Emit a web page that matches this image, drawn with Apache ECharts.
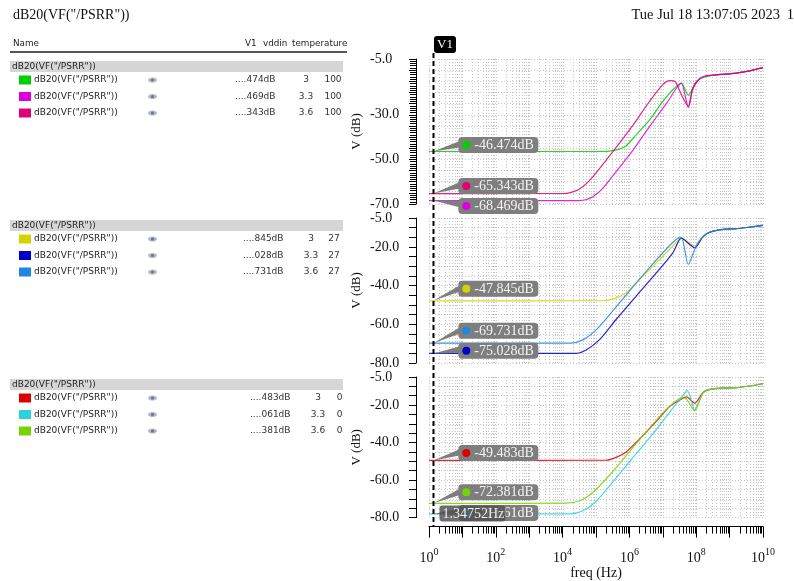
<!DOCTYPE html>
<html>
<head>
<meta charset="utf-8">
<script src="https://cdn.jsdelivr.net/npm/echarts@6/dist/echarts.min.js"></script>
<style>
html, body { margin: 0; padding: 0; background: #fff; }
#chart { width: 794px; height: 581px; }
</style>
</head>
<body>
<div id="chart"></div>
<script>
// ---- text ----
const titleText = 'dB20(VF("/PSRR"))';
const stampText = 'Tue Jul 18 13:07:05 2023';
const pageText = '1';
const tableHeader = ['Name', 'V1', 'vddin', 'temperature'];
const groupLabel = 'dB20(VF("/PSRR"))';
const traceLabel = 'dB20(VF("/PSRR"))';
const xAxisTitle = 'freq (Hz)';
const yAxisTitle = 'V (dB)';

// ---- cursor V1 ----
const cursorName = 'V1';
const cursorFreq = 1.34752;
const cursorFreqText = '1.34752Hz';

// ---- sweep parameters ----
const temperatures = ['100', '27', '0'];
const vddinValues = ['3', '3.3', '3.6'];
const cursorStubs = [
  ['....474dB', '....469dB', '....343dB'],
  ['....845dB', '....028dB', '....731dB'],
  ['....483dB', '....061dB', '....381dB']
];
const traceColors = [
  ['#00d000', '#dd00dd', '#dd0077'],
  ['#d4d400', '#0000cc', '#2088e0'],
  ['#dd0000', '#28d4d8', '#78d400']
];

// ---- PSRR traces [freq Hz, dB] ----
// temperature 100
const t100_v30 = [[1,-46.474],[1e5,-46.47],[2.5e5,-46.3],[5e5,-45.4],[8e5,-43.9],[1.6e6,-39.0],[4e6,-32.4],[1e7,-24.0],[2e7,-18.8],[3.6e7,-15.8],[5.8e7,-21.3],[1e8,-15.1],[1.6e8,-13.3],[4e8,-12.1],[1.6e9,-11.3],[4e9,-10.3],[1e10,-8.9]];
const t100_v33 = [[1,-68.469],[3e4,-68.45],[5e4,-68.1],[8e4,-66.8],[1.6e5,-63.0],[4e5,-55.5],[1.3e6,-45.7],[4e6,-35.3],[1.3e7,-24.8],[2.6e7,-18.0],[3.6e7,-15.8],[5.8e7,-26.7],[8e7,-18.0],[1.3e8,-13.6],[2e8,-12.5],[4e8,-12.1],[1.6e9,-11.3],[4e9,-10.3],[1e10,-8.9]];
const t100_v36 = [[1,-65.343],[1e4,-65.3],[1.7e4,-64.9],[3.3e4,-63.2],[8e4,-57.8],[3.2e5,-46.5],[1.3e6,-34.5],[4e6,-24.0],[1e7,-16.5],[1.6e7,-14.7],[2.3e7,-15.0],[3.6e7,-21.0],[5.8e7,-26.3],[8e7,-18.0],[1.3e8,-13.8],[2e8,-12.5],[4e8,-12.1],[1.6e9,-11.3],[4e9,-10.3],[1e10,-8.9]];
// temperature 27
const t27_v30 = [[1,-47.845],[1.6e5,-47.8],[4e5,-46.3],[8e5,-43.6],[2e6,-36.8],[6.5e6,-28.1],[2e7,-19.5],[3.6e7,-15.4],[9e7,-19.5],[1.45e8,-15.2],[2.6e8,-12.3],[6.5e8,-10.9],[1.6e9,-10.5],[4e9,-9.7],[1e10,-8.8]];
const t27_v33 = [[1,-75.028],[2.6e4,-75.0],[5.2e4,-73.2],[1.3e5,-67.8],[4e5,-57.5],[1.6e6,-45.4],[6.5e6,-33.3],[2e7,-23.0],[3.6e7,-15.4],[9e7,-20.4],[1.6e8,-14.6],[2.6e8,-12.3],[6.5e8,-10.9],[1.6e9,-10.5],[4e9,-9.7],[1e10,-8.8]];
const t27_v36 = [[1,-69.731],[1.7e4,-69.7],[4.2e4,-67.9],[1.05e5,-62.6],[2.6e5,-54.9],[1e6,-42.8],[4e6,-30.7],[1.3e7,-20.9],[2.6e7,-15.9],[3.6e7,-15.2],[5.8e7,-29.0],[1e8,-19.5],[1.6e8,-14.6],[2.6e8,-12.3],[6.5e8,-10.9],[1.6e9,-10.5],[4e9,-9.7],[1e10,-8.8]];
// temperature 0
const t0_v30 = [[1,-49.483],[2e5,-49.4],[4e5,-47.9],[8e5,-45.0],[2e6,-38.1],[6.5e6,-28.5],[1.6e7,-20.7],[3.6e7,-16.8],[5.1e7,-15.6],[9e7,-19.0],[1.6e8,-13.3],[2.6e8,-11.6],[6.5e8,-10.9],[1.6e9,-10.7],[4e9,-9.8],[1e10,-8.6]];
const t0_v33 = [[1,-78.061],[1.7e4,-78.0],[4.2e4,-76.2],[1.05e5,-71.0],[4e5,-58.8],[1.6e6,-45.9],[6.5e6,-32.9],[2e7,-21.6],[3.6e7,-16.1],[5.4e7,-12.1],[9e7,-22.5],[1.6e8,-13.3],[2.6e8,-11.6],[6.5e8,-10.9],[1.6e9,-10.7],[4e9,-9.8],[1e10,-8.6]];
const t0_v36 = [[1,-72.381],[1.3e4,-72.3],[3.3e4,-71.0],[8e4,-66.6],[3.2e5,-55.4],[1.3e6,-42.4],[5e6,-30.3],[1.6e7,-20.7],[3.6e7,-16.1],[5.1e7,-16.8],[9e7,-23.0],[1.6e8,-13.3],[2.6e8,-11.6],[6.5e8,-10.9],[1.6e9,-10.7],[4e9,-9.8],[1e10,-8.6]];

const panelTraces = [
  [t100_v30, t100_v33, t100_v36],
  [t27_v30, t27_v33, t27_v36],
  [t0_v30, t0_v33, t0_v36]
];

// ---- axes ----
const yMins = [-70, -80, -80];
const yMax = -5;
const yLabelValues = [
  [-5, -30, -50, -70],
  [-5, -20, -40, -60, -80],
  [-5, -20, -40, -60, -80]
];
const xMin = 1, xMax = 1e10;
const decadeTicks = [1, 1e1, 1e2, 1e3, 1e4, 1e5, 1e6, 1e7, 1e8, 1e9, 1e10];
const decadeLabels = [1, 1e2, 1e4, 1e6, 1e8, 1e10];

// ---- layout ----
const SERIF = '"Liberation Serif", "Times New Roman", serif';
const SANS = '"DejaVu Sans", "Noto Sans", sans-serif';
const plotLeft = 429, plotRight = 763;
const panelTops = [59, 218, 377];
const panelHeights = [145, 145, 144];
const yAxisShift = 13;
const xAxisDrop = 9;
const cursorTop = 53;
// callout box top relative to its tip, per trace
const calloutLift = [[-14.6, -2.6, -15.6], [-20, -10.6, -20.4], [-15.3, -9, -19]];
const calloutGap = 25;

// log-spaced grid positions (1..9 per decade)
const logGridFreqs = [];
for (let n = 0; n < 10; n++) for (let k = 1; k < 10; k++) logGridFreqs.push(k * Math.pow(10, n));
logGridFreqs.push(1e10);
const minorFreqs = logGridFreqs.filter(f => Math.abs(Math.log10(f) - Math.round(Math.log10(f))) > 1e-9);

const chart = echarts.init(document.getElementById('chart'), null, { renderer: 'canvas', width: 794, height: 581 });

const grids = panelTops.map((t, i) => ({
  left: plotLeft, width: plotRight - plotLeft, top: t, height: panelHeights[i], containLabel: false
}));

const xAxes = panelTops.map((t, i) => {
  const bottom = i === 2;
  return {
    gridIndex: i, type: 'log', logBase: 10, min: xMin, max: xMax,
    show: true,
    offset: bottom ? xAxisDrop : 0,
    axisLine: { show: bottom, onZero: false, lineStyle: { color: '#000', width: 1 } },
    axisTick: { show: bottom, length: 11, inside: false, customValues: decadeTicks, lineStyle: { color: '#000' } },
    axisLabel: {
      show: bottom, margin: 21, customValues: decadeLabels,
      formatter: v => '{b|10}{s|' + Math.round(Math.log10(v)) + '}',
      rich: {
        b: { fontFamily: SERIF, fontSize: 14, color: '#111', padding: [5, 0, 0, 0], lineHeight: 16 },
        s: { fontFamily: SERIF, fontSize: 10, color: '#111', verticalAlign: 'top', lineHeight: 12 }
      }
    },
    splitLine: { show: false },
    name: bottom ? xAxisTitle : '',
    nameLocation: 'middle', nameGap: 36,
    nameTextStyle: { fontFamily: SERIF, fontSize: 14, color: '#111' }
  };
});

const yAxes = panelTops.map((t, i) => ({
  gridIndex: i, type: 'value', min: yMins[i], max: yMax, interval: 5,
  offset: yAxisShift,
  axisLine: { show: true, onZero: false, lineStyle: { color: '#000', width: 1 } },
  axisTick: { show: true, length: 7, lineStyle: { color: '#000' } },
  minorTick: i === 0 ? { show: true, splitNumber: 5, length: 6, lineStyle: { color: '#000' } } : { show: false },
  splitLine: { show: true, lineStyle: { color: '#c6c6c6', type: [1, 2], width: 1 } },
  axisLabel: {
    margin: 46, align: 'left', fontFamily: SERIF, fontSize: 14, color: '#111',
    showMinLabel: true, showMaxLabel: true,
    formatter: v => yLabelValues[i].indexOf(Math.round(v)) >= 0 ? v.toFixed(1) : ''
  },
  name: yAxisTitle, nameLocation: 'middle', nameGap: 53, nameRotate: 90,
  nameTextStyle: { fontFamily: SERIF, fontSize: 13, color: '#111' }
}));

const series = [];

// dotted log grid, one per panel
panelTops.forEach((t, i) => {
  series.push({
    type: 'custom', xAxisIndex: i, yAxisIndex: i, z: 1, silent: true,
    data: logGridFreqs.map(f => [f, yMax]),
    renderItem: (params, api) => {
      const f = api.value(0);
      const a = api.coord([f, yMax]);
      const b = api.coord([f, yMins[i]]);
      const x = Math.round(a[0]) + 0.5;
      return { type: 'line', shape: { x1: x, y1: a[1], x2: x, y2: b[1] },
        style: { stroke: '#c6c6c6', lineWidth: 1, lineDash: [1, 2] } };
    }
  });
});

// minor log ticks on the frequency axis
series.push({
  type: 'custom', xAxisIndex: 2, yAxisIndex: 2, z: 2, silent: true,
  data: minorFreqs.map(f => [f, yMins[2]]),
  renderItem: (params, api) => {
    const p = api.coord([api.value(0), yMins[2]]);
    const x = Math.round(p[0]) + 0.5;
    const y = p[1] + xAxisDrop;
    return { type: 'line', shape: { x1: x, y1: y, x2: x, y2: y + 7 },
      style: { stroke: '#000', lineWidth: 1 } };
  }
});

// traces
panelTraces.forEach((traces, i) => {
  traces.forEach((data, j) => {
    series.push({
      type: 'line', xAxisIndex: i, yAxisIndex: i, z: 3,
      data: data, showSymbol: false, smooth: 0.25, silent: true,
      lineStyle: { color: traceColors[i][j], width: 1.2, opacity: 0.85 },
      animation: false
    });
  });
});

// cursor readouts
panelTraces.forEach((traces, i) => {
  series.push({
    type: 'custom', xAxisIndex: i, yAxisIndex: i, z: 5, silent: true,
    data: traces.map(d => [cursorFreq, d[0][1]]),
    renderItem: (params, api) => {
      const j = params.dataIndex;
      const v = api.value(1);
      const tip = api.coord([api.value(0), v]);
      const left = tip[0] + calloutGap;
      const top = tip[1] + calloutLift[i][j];
      const w = 80, h = 16;
      const fill = '#7e7e7e';
      return {
        type: 'group',
        children: [
          { type: 'polygon', shape: { points: [[tip[0], tip[1]], [left + 4, top + 3], [left + 4, top + 10]] }, style: { fill } },
          { type: 'rect', shape: { x: left, y: top, width: w, height: h, r: 4 }, style: { fill } },
          { type: 'circle', shape: { cx: left + 8, cy: top + h / 2, r: 4 }, style: { fill: traceColors[i][j] } },
          { type: 'text', style: { x: left + 16, y: top + h / 2 + 0.5, text: v.toFixed(3) + 'dB',
            fill: '#f4f4f4', font: '14px ' + SERIF, verticalAlign: 'middle', align: 'left' } }
        ]
      };
    }
  });
});

// vertical cursor V1
series.push({
  type: 'custom', xAxisIndex: 2, yAxisIndex: 2, z: 6, silent: true,
  data: [[cursorFreq, yMins[2]]],
  renderItem: (params, api) => {
    const p = api.coord([api.value(0), api.value(1)]);
    const x = Math.round(p[0]) + 0.5;
    const axisY = p[1] + xAxisDrop;
    return {
      type: 'group',
      children: [
        { type: 'line', shape: { x1: x, y1: cursorTop, x2: x, y2: axisY },
          style: { stroke: '#000', lineWidth: 2, lineDash: [5, 3] } },
        { type: 'rect', shape: { x: x + 0.5, y: cursorTop - 17, width: 22, height: 17, r: 3 }, style: { fill: '#000' } },
        { type: 'text', style: { x: x + 11.5, y: cursorTop - 8, text: cursorName, fill: '#fff',
          font: '13px ' + SERIF, align: 'center', verticalAlign: 'middle' } },
        { type: 'rect', shape: { x: x + 6, y: axisY - 21, width: 66, height: 16, r: 3 },
          style: { fill: 'rgba(78,78,78,0.82)' } },
        { type: 'text', style: { x: x + 9, y: axisY - 12.5, text: cursorFreqText, fill: '#f0f0f0',
          font: '14px ' + SERIF, align: 'left', verticalAlign: 'middle' } }
      ]
    };
  }
});

// ---- results table on the left ----
const graphics = [];
graphics.push({ type: 'text', left: 13, top: 8, style: { text: titleText, font: '14px ' + SERIF, fill: '#111' } });
graphics.push({ type: 'text', right: 14, top: 8, style: { text: stampText, font: '14.5px ' + SERIF, fill: '#111' } });
graphics.push({ type: 'text', right: 0, top: 8, style: { text: pageText, font: '14.5px ' + SERIF, fill: '#111' } });

const headerX = [13, 245, 263, 292];
tableHeader.forEach((h, k) => {
  graphics.push({ type: 'text', x: headerX[k], y: 44, style: { text: h, font: '8.8px ' + SANS, fill: '#222', verticalAlign: 'middle' } });
});
graphics.push({ type: 'line', shape: { x1: 10, y1: 52, x2: 347, y2: 52 }, style: { stroke: '#555', lineWidth: 2 } });

const groupTops = [61, 220, 379];
const stubLeft = [235, 243, 250];
const vddinCenter = [306, 311, 318];
const tempCenter = [333, 334, 339.5];

groupTops.forEach((gt, i) => {
  graphics.push({ type: 'rect', shape: { x: 10, y: gt, width: 333, height: 11 }, style: { fill: '#d6d6d6' } });
  graphics.push({ type: 'text', x: 12, y: gt + 5.5, style: { text: groupLabel, font: '9px ' + SANS, fill: '#222', verticalAlign: 'middle' } });
  for (let j = 0; j < 3; j++) {
    const ry = gt + 19 + j * 16.5;
    graphics.push({ type: 'rect', shape: { x: 19, y: ry - 4.5, width: 12, height: 9 }, style: { fill: traceColors[i][j] } });
    graphics.push({ type: 'text', x: 34, y: ry, style: { text: traceLabel, font: '9px ' + SANS, fill: '#222', verticalAlign: 'middle' } });
    graphics.push({ type: 'ellipse', shape: { cx: 152.5, cy: ry, rx: 4.5, ry: 2.6 }, style: { fill: '#b4bac4' } });
    graphics.push({ type: 'circle', shape: { cx: 152.5, cy: ry, r: 1.6 }, style: { fill: '#6d7686' } });
    graphics.push({ type: 'text', x: stubLeft[i], y: ry, style: { text: cursorStubs[i][j], font: '9px ' + SANS, fill: '#333', verticalAlign: 'middle' } });
    graphics.push({ type: 'text', x: vddinCenter[i], y: ry, style: { text: vddinValues[j], font: '9px ' + SANS, fill: '#333', verticalAlign: 'middle', align: 'center' } });
    graphics.push({ type: 'text', x: tempCenter[i], y: ry, style: { text: temperatures[i], font: '9px ' + SANS, fill: '#333', verticalAlign: 'middle', align: 'center' } });
  }
});

chart.setOption({
  animation: false,
  backgroundColor: '#ffffff',
  grid: grids,
  xAxis: xAxes,
  yAxis: yAxes,
  series: series,
  graphic: graphics
});
</script>
</body>
</html>
